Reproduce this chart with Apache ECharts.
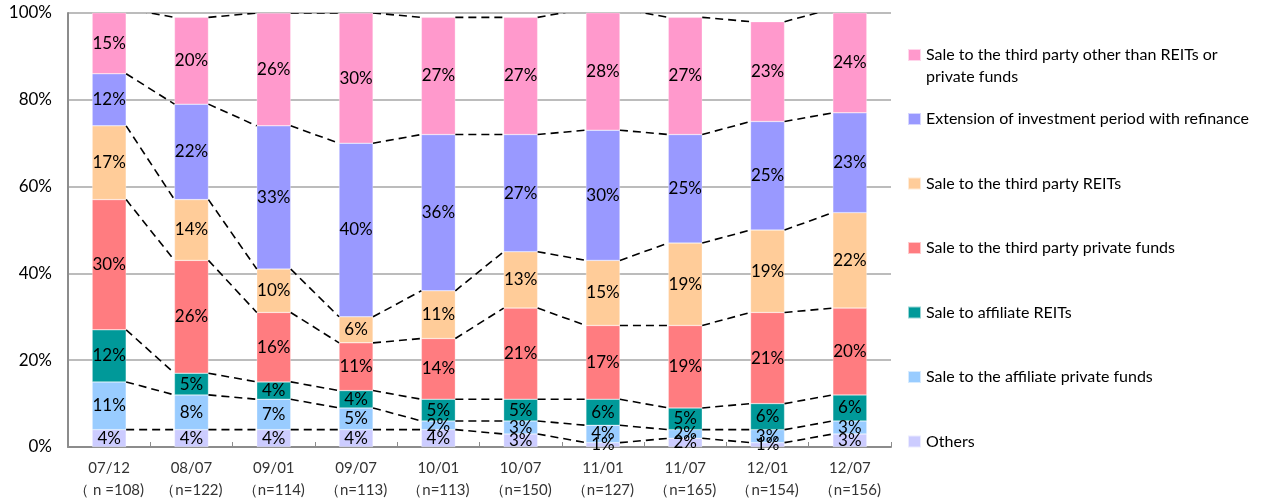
<!DOCTYPE html>
<html>
<head>
<meta charset="utf-8">
<script src="https://cdn.jsdelivr.net/npm/echarts@6/dist/echarts.min.js"></script>
<style>
  html, body { margin: 0; padding: 0; background: #fff; }
  #chart { width: 1282px; height: 501px; }
</style>
</head>
<body>
<div id="chart"></div>
<script>
// Survey periods and respondent counts
const periods = ['07/12', '08/07', '09/01', '09/07', '10/01', '10/07', '11/01', '11/07', '12/01', '12/07'];
const respondents = ['（ n =108)', '（n=122)', '（n=114)', '（n=113)', '（n=113)', '（n=150)', '（n=127)', '（n=165)', '（n=154)', '（n=156)'];

// Shares (%) by exit strategy, listed from the bottom of each stack to the top
const others              = [4, 4, 4, 4, 4, 3, 1, 2, 1, 3];
const affiliateFunds      = [11, 8, 7, 5, 2, 3, 4, 2, 3, 3];
const affiliateReits      = [12, 5, 4, 4, 5, 5, 6, 5, 6, 6];
const thirdPartyFunds     = [30, 26, 16, 11, 14, 21, 17, 19, 21, 20];
const thirdPartyReits     = [17, 14, 10, 6, 11, 13, 15, 19, 19, 22];
const refinanceExtension  = [12, 22, 33, 40, 36, 27, 30, 25, 25, 23];
const thirdPartyOther     = [15, 20, 26, 30, 27, 27, 28, 27, 23, 24];

const yTicks = [0, 20, 40, 60, 80, 100];

const seriesNames = [
  'Others',
  'Sale to the affiliate private funds',
  'Sale to affiliate REITs',
  'Sale to the third party private funds',
  'Sale to the third party REITs',
  'Extension of investment period with refinance',
  'Sale to the third party other than REITs or private funds'
];
const seriesValues = [others, affiliateFunds, affiliateReits, thirdPartyFunds, thirdPartyReits, refinanceExtension, thirdPartyOther];
const colors = ['#CCCCFF', '#99CCFF', '#009999', '#FF7C80', '#FFCC99', '#9999FF', '#FF99CC'];

const FONT = 'Lato';
const BAR_RATIO = 0.413;

// Running totals: top edge of every stacked segment
const runningTotals = [];
seriesValues.forEach((vals, k) => {
  runningTotals.push(vals.map((v, i) => v + (k ? runningTotals[k - 1][i] : 0)));
});

// Connector segments between neighbouring bars at each segment boundary
const connectorData = [];
runningTotals.forEach(tot => {
  for (let i = 0; i < periods.length - 1; i++) {
    connectorData.push([i, tot[i], tot[i + 1]]);
  }
});

const barSeries = seriesNames.map((name, k) => ({
  name: name,
  type: 'bar',
  stack: 'share',
  barWidth: (BAR_RATIO * 100) + '%',
  data: seriesValues[k],
  itemStyle: { color: colors[k], borderColor: 'rgba(255,255,255,0.6)', borderWidth: 0.5 },
  label: {
    show: true,
    position: 'inside',
    formatter: '{c}%',
    color: '#000',
    fontFamily: FONT,
    fontSize: 17
  },
  emphasis: { disabled: true },
  z: 2
}));

const connectorSeries = {
  type: 'custom',
  name: 'connectors',
  data: connectorData,
  encode: { x: 0, y: [1, 2] },
  clip: true,
  silent: true,
  z: 3,
  renderItem: function (params, api) {
    const i = api.value(0);
    const a = api.coord([i, api.value(1)]);
    const b = api.coord([i + 1, api.value(2)]);
    const half = api.size([1, 0])[0] * BAR_RATIO / 2;
    return {
      type: 'line',
      shape: { x1: a[0] + half, y1: a[1], x2: b[0] - half, y2: b[1] },
      style: { stroke: '#000', lineWidth: 1.6, lineDash: [8, 5], fill: null }
    };
  }
};

const legendNames = seriesNames.slice().reverse();
const legendText = { fontFamily: FONT, fontSize: 16, color: '#000', lineHeight: 22 };
const legendCommon = {
  orient: 'vertical',
  left: 907,
  padding: 0,
  itemWidth: 13,
  itemHeight: 12,
  icon: 'rect',
  selectedMode: false,
  textStyle: legendText
};

const option = {
  animation: false,
  color: colors,
  grid: { left: 68, right: 391, top: 13, bottom: 54 },
  legend: [
    // Two-line entry: the leading blank line keeps its first line level with the swatch
    Object.assign({}, legendCommon, {
      top: 22,
      data: [legendNames[0]],
      formatter: function () {
        return '\nSale to the third party other than REITs or\nprivate funds';
      }
    }),
    Object.assign({}, legendCommon, {
      top: 108,
      itemGap: 42.5,
      data: legendNames.slice(1)
    })
  ],
  xAxis: {
    type: 'category',
    data: periods,
    axisLine: { lineStyle: { color: '#8c8c8c', width: 2 } },
    axisTick: { show: true, inside: true, length: 5, alignWithLabel: false, lineStyle: { color: '#8c8c8c', width: 1 } },
    axisLabel: {
      fontFamily: FONT,
      fontSize: 15,
      color: '#333',
      lineHeight: 22,
      margin: 10,
      interval: 0,
      formatter: function (v, idx) { return v + '\n' + respondents[idx]; }
    }
  },
  yAxis: {
    type: 'value',
    min: yTicks[0],
    max: yTicks[yTicks.length - 1],
    interval: yTicks[1] - yTicks[0],
    axisLine: { show: true, lineStyle: { color: '#8c8c8c', width: 2 } },
    axisTick: { show: false },
    splitLine: { lineStyle: { color: '#a6a6a6', width: 1.5 } },
    axisLabel: { fontFamily: FONT, fontSize: 17, color: '#000', margin: 16, formatter: '{value}%' }
  },
  series: barSeries.concat([connectorSeries])
};

const chart = echarts.init(document.getElementById('chart'), null, { renderer: 'canvas' });
chart.setOption(option);
</script>
</body>
</html>
